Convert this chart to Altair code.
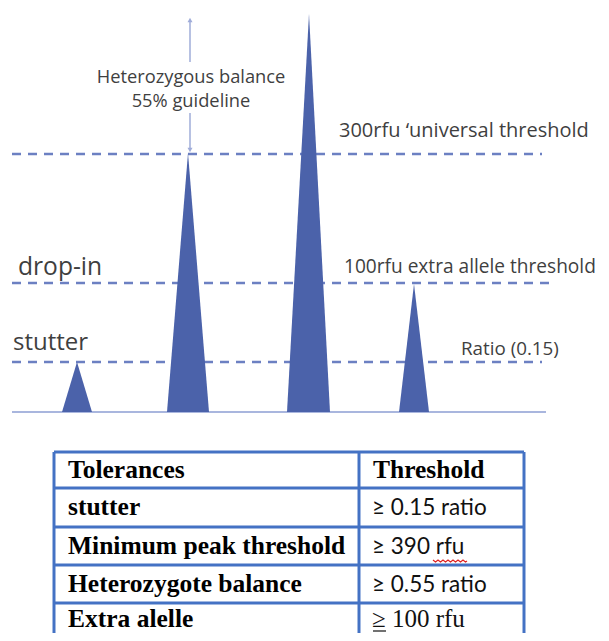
import altair as alt
import pandas as pd

# ---------------- schematic electropherogram (values in picture pixels) ----------------
peak_names = ["stutter", "allele 1", "allele 2", "drop-in"]
peak_left = [62, 167, 287, 399]
peak_apex = [77, 188, 309, 414]
peak_right = [92, 209, 330, 429]
peak_top = [362, 153, 14, 284]
baseline_y = 412
baseline_x = [12, 546]

threshold_names = ["300rfu", "100rfu", "stutter ratio"]
threshold_y = [154, 283, 362]
threshold_x1 = [12, 12, 12]
threshold_x2 = [542, 551, 542]

label_texts = ["300rfu \u2018universal threshold", "100rfu extra allele threshold",
               "drop-in", "stutter", "Ratio (0.15)"]
label_x = [339, 344, 18, 13, 461]
label_y = [137, 273, 275, 350, 355]
label_size = [20, 19.1, 24.6, 24, 18.8]

hb_texts = ["Heterozygous balance", "55% guideline"]
hb_x = [191, 191]
hb_y = [83, 107]

arrow_x = 190
arrow_segments_y1 = [22, 113]
arrow_segments_y2 = [62, 150]
arrow_heads_y = [20, 150]
arrow_heads_shape = ["triangle-up", "triangle-down"]

# ---------------- table ----------------
col_x = [54, 359, 524]
row_y = [452, 488, 527, 565, 603]
table_bottom = 633
tolerances = ["Tolerances", "stutter", "Minimum peak threshold", "Heterozygote balance", "Extra alelle"]
thresholds = ["Threshold", "\u2265 0.15 ratio", "\u2265 390 rfu", "\u2265 0.55 ratio", "\u2265 100 rfu"]
text_baselines = [478, 515, 554, 592, 627]

# spell-check squiggle under "rfu" (row 3) and underline under the last "≥"
squiggle_x = [433, 435.5, 438, 440.5, 443, 445.5, 448, 450.5, 453, 455.5, 458, 460.5, 463, 465.5, 467]
squiggle_y = [560, 562, 560, 562, 560, 562, 560, 562, 560, 562, 560, 562, 560, 562, 561]
underline_x = [373, 386]
underline_y = 631

W, H = 593, 625
xs = alt.Scale(domain=[8, 8 + W], nice=False, zero=False)
ys = alt.Scale(domain=[8, 8 + H], nice=False, zero=False, reverse=True)
X = lambda f: alt.X(f, type="quantitative", scale=xs, axis=None)
Y = lambda f: alt.Y(f, type="quantitative", scale=ys, axis=None)

# peaks as triangles
rows = []
for n, l, a, r, t in zip(peak_names, peak_left, peak_apex, peak_right, peak_top):
    rows += [dict(peak=n, x=l, y=baseline_y, base=baseline_y),
             dict(peak=n, x=a, y=t, base=baseline_y),
             dict(peak=n, x=r, y=baseline_y, base=baseline_y)]
peaks_df = pd.DataFrame(rows)
peaks = alt.Chart(peaks_df).mark_area(color="#4B62AA", opacity=1, interpolate="linear").encode(
    x=X("x"), y=Y("y"), y2="base", detail="peak:N")

base_df = pd.DataFrame({"x1": [baseline_x[0]], "x2": [baseline_x[1]], "y": [baseline_y]})
baseline = alt.Chart(base_df).mark_rule(color="#A9B6DE", strokeWidth=2).encode(
    x=X("x1"), x2="x2", y=Y("y"))

thr_df = pd.DataFrame({"name": threshold_names, "x1": threshold_x1, "x2": threshold_x2, "y": threshold_y})
thresh = alt.Chart(thr_df).mark_rule(color="#6C80C2", strokeWidth=2.5, strokeDash=[9, 7]).encode(
    x=X("x1"), x2="x2", y=Y("y"))

arr_df = pd.DataFrame({"x": [arrow_x] * 2, "y1": arrow_segments_y1, "y2": arrow_segments_y2})
arrow = alt.Chart(arr_df).mark_rule(color="#9FACD9", strokeWidth=1.5).encode(
    x=X("x"), y=Y("y1"), y2="y2")
heads_df = pd.DataFrame({"x": [arrow_x] * 2, "y": arrow_heads_y, "s": arrow_heads_shape})
heads = alt.Chart(heads_df).mark_point(filled=True, color="#9FACD9", size=25, opacity=1).encode(
    x=X("x"), y=Y("y"), shape=alt.Shape("s:N", scale=None))

lab_df = pd.DataFrame({"t": label_texts, "x": label_x, "y": label_y, "s": label_size})
labels = alt.Chart(lab_df).mark_text(align="left", baseline="alphabetic", font="Open Sans", color="#3F3F3F").encode(
    x=X("x"), y=Y("y"), text="t:N", size=alt.Size("s:Q", scale=None))

hb_df = pd.DataFrame({"t": hb_texts, "x": hb_x, "y": hb_y})
hb = alt.Chart(hb_df).mark_text(align="center", baseline="alphabetic", font="Open Sans", fontSize=18.3,
                                color="#3F3F3F").encode(x=X("x"), y=Y("y"), text="t:N")

# table grid
h_df = pd.DataFrame({"y": row_y, "x1": [col_x[0]] * len(row_y), "x2": [col_x[-1]] * len(row_y)})
hlines = alt.Chart(h_df).mark_rule(color="#4472C4", strokeWidth=3).encode(x=X("x1"), x2="x2", y=Y("y"))
v_df = pd.DataFrame({"x": col_x, "y1": [row_y[0]] * len(col_x), "y2": [table_bottom] * len(col_x)})
vlines = alt.Chart(v_df).mark_rule(color="#4472C4", strokeWidth=3).encode(x=X("x"), y=Y("y1"), y2="y2")

tol_df = pd.DataFrame({"t": tolerances, "y": text_baselines, "x": [col_x[0] + 14] * 5})
tol_text = alt.Chart(tol_df).mark_text(align="left", baseline="alphabetic", font="Liberation Serif",
                                       fontWeight="bold", fontSize=25.5, color="#000000").encode(
    x=X("x"), y=Y("y"), text="t:N")

thr_head_df = pd.DataFrame({"t": thresholds[:1], "y": text_baselines[:1], "x": [col_x[1] + 14]})
thr_head = alt.Chart(thr_head_df).mark_text(align="left", baseline="alphabetic", font="Liberation Serif",
                                            fontWeight="bold", fontSize=25.5, color="#000000").encode(
    x=X("x"), y=Y("y"), text="t:N")
thr_mid_df = pd.DataFrame({"t": thresholds[1:4], "y": text_baselines[1:4], "x": [col_x[1] + 13] * 3})
thr_mid = alt.Chart(thr_mid_df).mark_text(align="left", baseline="alphabetic", font="Lato",
                                          fontSize=22.5, color="#111111").encode(
    x=X("x"), y=Y("y"), text="t:N")
thr_last_df = pd.DataFrame({"t": thresholds[4:], "y": text_baselines[4:], "x": [col_x[1] + 13]})
thr_last = alt.Chart(thr_last_df).mark_text(align="left", baseline="alphabetic", font="Liberation Serif",
                                            fontSize=25, color="#111111").encode(
    x=X("x"), y=Y("y"), text="t:N")

sq_df = pd.DataFrame({"x": squiggle_x, "y": squiggle_y})
squiggle = alt.Chart(sq_df).mark_line(color="#E02020", strokeWidth=1.2).encode(x=X("x"), y=Y("y"))
ul_df = pd.DataFrame({"x1": [underline_x[0]], "x2": [underline_x[1]], "y": [underline_y]})
underline = alt.Chart(ul_df).mark_rule(color="#111111", strokeWidth=1.2).encode(x=X("x1"), x2="x2", y=Y("y"))

chart = alt.layer(thresh, baseline, arrow, heads, peaks, labels, hb,
                  hlines, vlines, tol_text, thr_head, thr_mid, thr_last, squiggle, underline).properties(
    width=W, height=H, autosize=alt.AutoSizeParams(type="none"), padding=0,
    background="#FFFFFF").configure_view(stroke=None)

chart.save("out.html", embed_options={"renderer": "svg", "actions": False})
